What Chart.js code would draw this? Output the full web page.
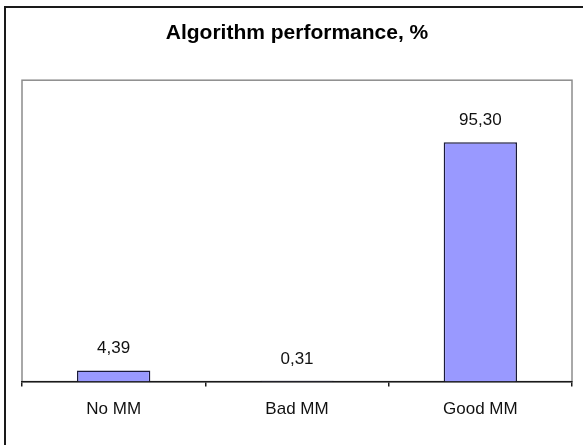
<!DOCTYPE html>
<html>
<head>
<meta charset="utf-8">
<script src="https://cdn.jsdelivr.net/npm/chart.js@4.4.1/dist/chart.umd.min.js"></script>
<style>
  html, body { margin: 0; padding: 0; background: #ffffff; }
  #wrap { width: 583px; height: 445px; position: relative; }
</style>
</head>
<body>
<div id="wrap"><canvas id="c" width="583" height="445"></canvas></div>
<script>
const categories = ["No MM", "Bad MM", "Good MM"];
const performance = [4.39, 0.31, 95.30];
const chartTitle = "Algorithm performance, %";

const framePlugin = {
  id: 'frame',
  beforeDraw(chart) {
    const ctx = chart.ctx;
    ctx.save();
    ctx.fillStyle = '#ffffff';
    ctx.fillRect(0, 0, chart.width, chart.height);
    // outer chart border (extends past right/bottom edge)
    ctx.strokeStyle = '#1a1a1a';
    ctx.lineWidth = 2;
    ctx.strokeRect(5, 7, chart.width + 10, chart.height + 10);
    // plot area border
    const a = chart.chartArea;
    ctx.strokeStyle = '#8c8c8c';
    ctx.lineWidth = 1.5;
    ctx.strokeRect(a.left, a.top, a.right - a.left, a.bottom - a.top);
    ctx.restore();
  }
};

const valueLabelPlugin = {
  id: 'valueLabels',
  afterDatasetsDraw(chart) {
    const ctx = chart.ctx;
    const meta = chart.getDatasetMeta(0);
    ctx.save();
    ctx.font = '17px "Liberation Sans", Arial, sans-serif';
    ctx.fillStyle = '#111111';
    ctx.textAlign = 'center';
    ctx.textBaseline = 'middle';
    meta.data.forEach((bar, i) => {
      const txt = performance[i].toFixed(2).replace('.', ',');
      ctx.fillText(txt, bar.x, bar.y - 22);
    });
    ctx.restore();
  }
};

new Chart(document.getElementById('c'), {
  type: 'bar',
  data: {
    labels: categories,
    datasets: [{
      data: performance,
      backgroundColor: '#9999ff',
      borderColor: '#1a1a3a',
      borderWidth: 1.5,
      borderSkipped: 'bottom',
      categoryPercentage: 1.0,
      barPercentage: 0.4
    }]
  },
  options: {
    responsive: false,
    animation: false,
    devicePixelRatio: 1,
    layout: { padding: { left: 22, right: 11, top: 0, bottom: 12 } },
    plugins: {
      legend: { display: false },
      tooltip: { enabled: false },
      title: {
        display: true,
        text: chartTitle,
        color: '#000000',
        font: { family: '"Liberation Sans", Arial, sans-serif', size: 21, weight: 'bold' },
        padding: { top: 21, bottom: 34 }
      }
    },
    scales: {
      x: {
        offset: true,
        grid: {
          offset: true,
          drawOnChartArea: false,
          drawTicks: true,
          tickLength: 5,
          color: '#1a1a1a',
          lineWidth: 1.5
        },
        border: { display: true, color: '#1a1a1a', width: 1.5 },
        ticks: {
          color: '#111111',
          padding: 13,
          font: { family: '"Liberation Sans", Arial, sans-serif', size: 17 }
        }
      },
      y: {
        display: false,
        min: 0,
        max: 120
      }
    }
  },
  plugins: [framePlugin, valueLabelPlugin]
});
</script>
</body>
</html>
